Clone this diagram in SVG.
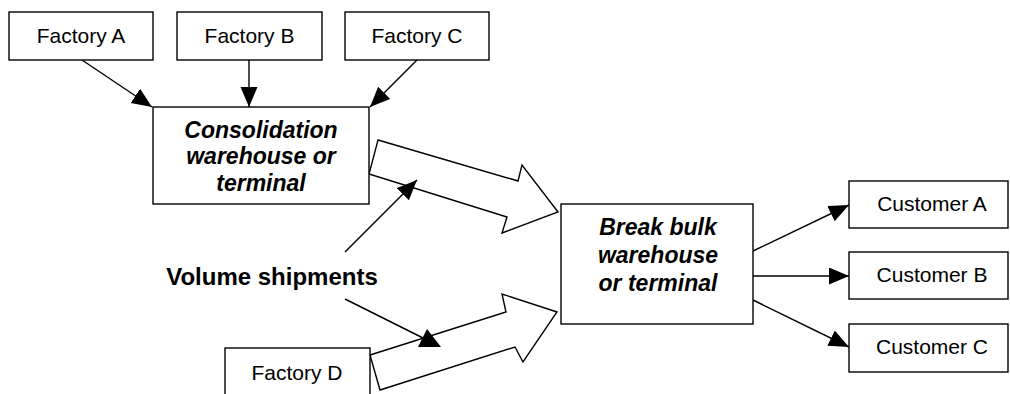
<svg xmlns="http://www.w3.org/2000/svg" width="1010" height="394" viewBox="0 0 1010 394">
  <style>
    .box { fill: #ffffff; stroke: #000000; stroke-width: 1.4; }
    .lbl { font-family: "Liberation Sans", Arial, sans-serif; font-size: 21px; fill: #000000; text-anchor: middle; }
    .hub { font-family: "Liberation Sans", Arial, sans-serif; font-size: 23px; font-weight: bold; font-style: italic; fill: #000000; text-anchor: middle; }
    .note { font-family: "Liberation Sans", Arial, sans-serif; font-size: 24px; font-weight: bold; fill: #000000; text-anchor: middle; }
    .link { fill: none; stroke: #000000; stroke-width: 1.4; marker-end: url(#head); }
    .flow { fill: #ffffff; stroke: #000000; stroke-width: 1.4; stroke-linejoin: miter; }
  </style>
  <defs>
    <marker id="head" markerUnits="userSpaceOnUse" markerWidth="21" markerHeight="18" refX="20" refY="8.5" orient="auto">
      <path d="M0,0 L20,8.5 L0,17 z" fill="#000000"/>
    </marker>
  </defs>

  <rect width="1010" height="394" fill="#ffffff"/>

  <!-- connectors -->
  <g id="connectors">
    <!-- factories into the consolidation point -->
    <line class="link" x1="82" y1="60" x2="152" y2="107"/>
    <line class="link" x1="249" y1="60" x2="249" y2="107"/>
    <line class="link" x1="417" y1="60" x2="370" y2="107"/>
    <!-- volume shipment flows -->
    <polygon class="flow" points="378,140 518,181 522,165 558,212 502,233 507,217 369,174"/>
    <polygon class="flow" points="370,355 506,312 502,294 557,312 523,362 515,347 380,390"/>
    <!-- label pointers -->
    <line class="link" x1="345" y1="252" x2="417" y2="180"/>
    <line x1="345" y1="299" x2="429" y2="341" stroke="#000000" stroke-width="1.4"/>
    <polygon points="427,329 418,347 441,347" fill="#000000"/>
    <!-- break bulk out to customers -->
    <line class="link" x1="753" y1="251" x2="849" y2="205"/>
    <line class="link" x1="753" y1="276" x2="849" y2="276"/>
    <line class="link" x1="753" y1="300" x2="849" y2="347"/>
  </g>

  <g id="factory-a">
    <rect class="box" x="9" y="12" width="144" height="48"/>
    <text class="lbl" x="81" y="43">Factory A</text>
  </g>
  <g id="factory-b">
    <rect class="box" x="177" y="12" width="145" height="48"/>
    <text class="lbl" x="249.5" y="43">Factory B</text>
  </g>
  <g id="factory-c">
    <rect class="box" x="345" y="12" width="144" height="48"/>
    <text class="lbl" x="417" y="43">Factory C</text>
  </g>

  <g id="consolidation">
    <rect class="box" x="153" y="107" width="216" height="97"/>
    <text class="hub" x="261" y="138">Consolidation</text>
    <text class="hub" x="261" y="164">warehouse or</text>
    <text class="hub" x="261" y="191">terminal</text>
  </g>

  <g id="break-bulk">
    <rect class="box" x="561" y="204" width="192" height="120"/>
    <text class="hub" x="658" y="235">Break bulk</text>
    <text class="hub" x="658" y="263">warehouse</text>
    <text class="hub" x="658" y="291">or terminal</text>
  </g>

  <g id="customer-a">
    <rect class="box" x="849" y="181" width="159" height="47"/>
    <text class="lbl" x="932" y="211">Customer A</text>
  </g>
  <g id="customer-b">
    <rect class="box" x="849" y="252" width="159" height="47"/>
    <text class="lbl" x="932" y="282">Customer B</text>
  </g>
  <g id="customer-c">
    <rect class="box" x="849" y="324" width="159" height="48"/>
    <text class="lbl" x="932" y="354">Customer C</text>
  </g>

  <g id="factory-d">
    <rect class="box" x="225" y="348" width="145" height="52"/>
    <text class="lbl" x="297" y="380">Factory D</text>
  </g>

  <g id="volume-label">
    <text class="note" x="272" y="285">Volume shipments</text>
  </g>
</svg>
